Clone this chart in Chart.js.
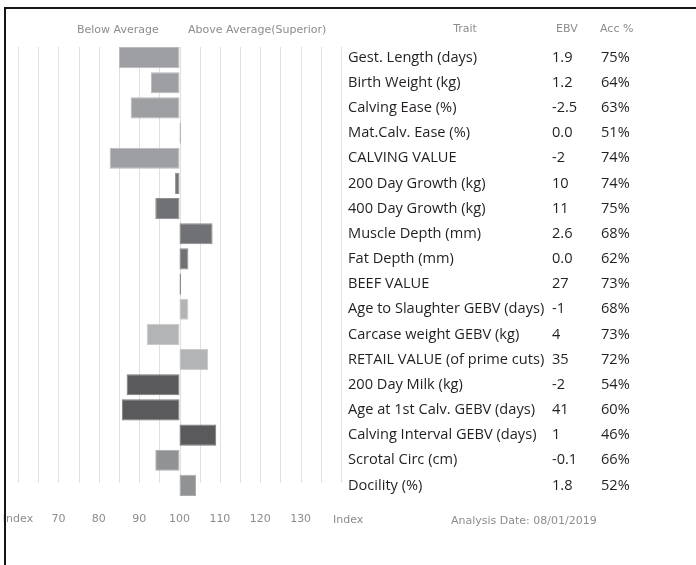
<!DOCTYPE html>
<html>
<head>
<meta charset="utf-8">
<script src="https://cdn.jsdelivr.net/npm/chart.js@4.4.1/dist/chart.umd.min.js"></script>
<style>
  html, body { margin: 0; padding: 0; background: #fff; }
  #wrap { position: relative; width: 696px; height: 565px; overflow: hidden; }
  #frame { position: absolute; left: 4px; top: 7px; width: 720px; height: 600px;
           border-left: 2px solid #161616; border-top: 2px solid #161616; pointer-events: none; }
</style>
</head>
<body>
<div id="wrap">
  <canvas id="ebvChart" width="696" height="565"></canvas>
  <div id="frame"></div>
</div>
<script>
// traits, shown top to bottom
const traits = [
  'Gest. Length (days)', 'Birth Weight (kg)', 'Calving Ease (%)', 'Mat.Calv. Ease (%)',
  'CALVING VALUE', '200 Day Growth (kg)', '400 Day Growth (kg)', 'Muscle Depth (mm)',
  'Fat Depth (mm)', 'BEEF VALUE', 'Age to Slaughter GEBV (days)', 'Carcase weight GEBV (kg)',
  'RETAIL VALUE (of prime cuts)', '200 Day Milk (kg)', 'Age at 1st Calv. GEBV (days)',
  'Calving Interval GEBV (days)', 'Scrotal Circ (cm)', 'Docility (%)'
];
const ebv = ['1.9', '1.2', '-2.5', '0.0', '-2', '10', '11', '2.6', '0.0', '27', '-1', '4', '35', '-2', '41', '1', '-0.1', '1.8'];
const accuracy = ['75%', '64%', '63%', '51%', '74%', '74%', '75%', '68%', '62%', '73%', '68%', '73%', '72%', '54%', '60%', '46%', '66%', '52%'];
// index value of each bar (bars grow from the average of 100)
const indexValues = [85, 92.9, 87.9, 100.4, 82.7, 98.9, 94, 108.2, 102.2, 100.4, 102.2, 91.9, 107.1, 86.9, 85.7, 109.1, 94, 104.1];
const averageIndex = 100;
// trait group of each bar
const traitGroup = ['calving', 'calving', 'calving', 'calving', 'calving',
  'growth', 'growth', 'growth', 'growth', 'growth',
  'carcase', 'carcase', 'carcase',
  'fertility', 'fertility', 'fertility',
  'other', 'other'];
const indexTicks = [60, 70, 80, 90, 100, 110, 120, 130, 140];

const groupFill = { calving: '#9e9fa3', growth: '#707174', carcase: '#b3b4b6', fertility: '#5a5a5c', other: '#919294' };
const groupEdge = { calving: '#b8b9bc', growth: '#8c8d90', carcase: '#c9cacc', fertility: '#7a7a7c', other: '#aaabad' };

const greyText = '#8c8c8c';
const smallFont = '11px "DejaVu Sans"';
const tableFont = '14.6px "Open Sans"';

// vertical grid lines, a bit shorter than the plot area
const gridPlugin = {
  id: 'shortGrid',
  beforeDatasetsDraw(chart) {
    const ctx = chart.ctx;
    const xScale = chart.scales.x;
    ctx.save();
    ctx.strokeStyle = '#e0e0e0';
    ctx.lineWidth = 1;
    xScale.ticks.forEach(t => {
      const x = Math.round(xScale.getPixelForValue(t.value)) + 0.5;
      ctx.beginPath();
      ctx.moveTo(x, 47);
      ctx.lineTo(x, 483);
      ctx.stroke();
    });
    ctx.restore();
  }
};

// table of trait / EBV / accuracy drawn beside the bars
const tablePlugin = {
  id: 'ebvTable',
  afterDraw(chart) {
    const ctx = chart.ctx;
    const yScale = chart.scales.y;
    ctx.save();
    ctx.textBaseline = 'middle';

    ctx.fillStyle = greyText;
    ctx.font = smallFont;
    ctx.textAlign = 'left';
    ctx.fillText('Below Average', 77, 30);
    ctx.fillText('Above Average(Superior)', 188, 30);
    ctx.textAlign = 'center';
    ctx.fillText('Trait', 465, 29);
    ctx.textAlign = 'left';
    ctx.fillText('EBV', 556, 29);
    ctx.fillText('Acc %', 600, 29);
    ctx.fillText('Index', 333, 520);
    ctx.fillText('Analysis Date: 08/01/2019', 451, 521);

    ctx.fillStyle = '#231f20';
    ctx.font = tableFont;
    traits.forEach((t, i) => {
      const y = yScale.getPixelForValue(i);
      ctx.fillText(t, 348, y);
      ctx.fillText(ebv[i], 552, y);
      ctx.fillText(accuracy[i], 601, y);
    });
    ctx.restore();
  }
};

new Chart(document.getElementById('ebvChart'), {
  type: 'bar',
  data: {
    labels: traits,
    datasets: [{
      data: indexValues.map(v => [averageIndex, v]),
      backgroundColor: traitGroup.map(g => groupFill[g]),
      borderColor: traitGroup.map(g => groupEdge[g]),
      borderWidth: 1,
      borderSkipped: false,
      categoryPercentage: 1,
      barPercentage: 0.84
    }]
  },
  options: {
    indexAxis: 'y',
    responsive: false,
    animation: false,
    devicePixelRatio: 1,
    layout: { padding: { left: 18, right: 355, top: 45, bottom: 17 } },
    plugins: { legend: { display: false }, tooltip: { enabled: false } },
    scales: {
      y: { display: false },
      x: {
        min: 60,
        max: 140,
        border: { display: false },
        grid: { display: false },
        afterFit(scale) {
          scale.height = 50;
          scale.paddingLeft = 0;
          scale.paddingRight = 0;
        },
        ticks: {
          stepSize: 5,
          autoSkip: false,
          maxRotation: 0,
          padding: 7,
          color: greyText,
          font: { family: 'DejaVu Sans', size: 11 },
          callback: v => v === indexTicks[0] ? 'Index'
                      : (v !== indexTicks[indexTicks.length - 1] && indexTicks.includes(v) ? String(v) : '')
        }
      }
    }
  },
  plugins: [gridPlugin, tablePlugin]
});
</script>
</body>
</html>
